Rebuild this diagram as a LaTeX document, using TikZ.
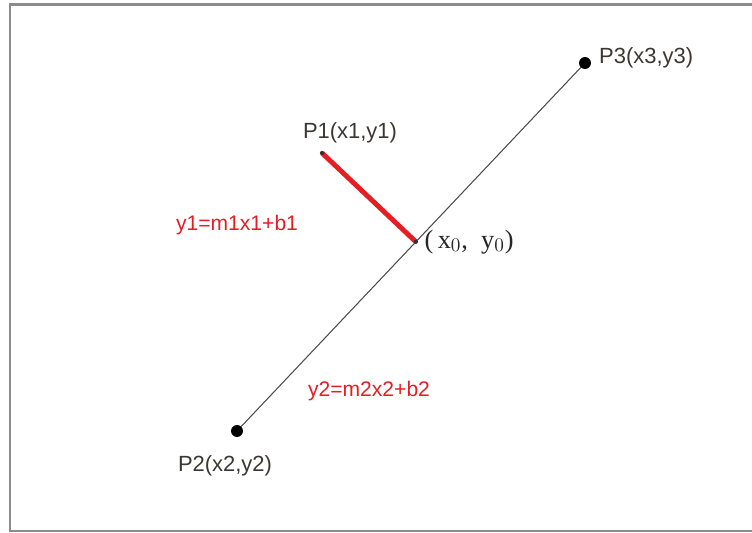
\documentclass[tikz,border=0pt]{standalone}
\usepackage{fontspec}
\setmainfont{Liberation Sans}
\newfontfamily\footfont{Liberation Serif}
\usetikzlibrary{calc, math}
\definecolor{myred}{RGB}{230,30,35}
\definecolor{mygray}{RGB}{140,140,140}
\definecolor{mytext}{RGB}{60,55,50}

\begin{document}
\begin{tikzpicture}[
  pt/.style={text=mytext, font=\fontsize{12.5}{14}\selectfont},
  eq/.style={text=myred, font=\fontsize{12}{14}\selectfont}
]
\tikzmath{
\W=15.04;
\H=10.66;
}
\useasboundingbox (0,0) rectangle (\W,\H);

% frame, right side runs off the page
\draw[line width=1.7pt, color=mygray] (15.4,0.04) -- (0.2,0.04) -- (0.2,10.56) -- (15.4,10.56);

\coordinate (P1) at (6.44,7.60);
\coordinate (P2) at (4.74,2.04);
\coordinate (P3) at (11.70,9.40);
\coordinate (P0) at ($(P2)!(P1)!(P3)$);

\draw[line width=0.6pt, color=black!70] (P2) -- (P3);
\draw[line width=2.8pt, color=myred] (P1) -- (P0);

\fill (P2) circle (3.4pt);
\fill (P3) circle (3.4pt);
\fill[black!80] (P1) circle (1.2pt);
\fill[black!80] (P0) circle (1.2pt);

\node[pt] (lP1) at ($(P1)+(0.56,0.40)$) {P1(x1,y1)};
\node[pt] (lP2) at ($(P2)+(-0.24,-0.70)$) {P2(x2,y2)};
\node[pt, anchor=west] (lP3) at ($(P3)+(0.16,0.10)$) {P3(x3,y3)};
\node[anchor=west, text=black!85, font=\footfont\fontsize{15}{16}\selectfont] (lP0) at ($(P0)+(0.05,0.0)$) {(\,x$_0$,\ \ y$_0$)};

\node[eq] (eq1) at (4.74,6.16) {y1=m1x1+b1};
\node[eq] (eq2) at (7.38,2.84) {y2=m2x2+b2};

\end{tikzpicture}
\end{document}
